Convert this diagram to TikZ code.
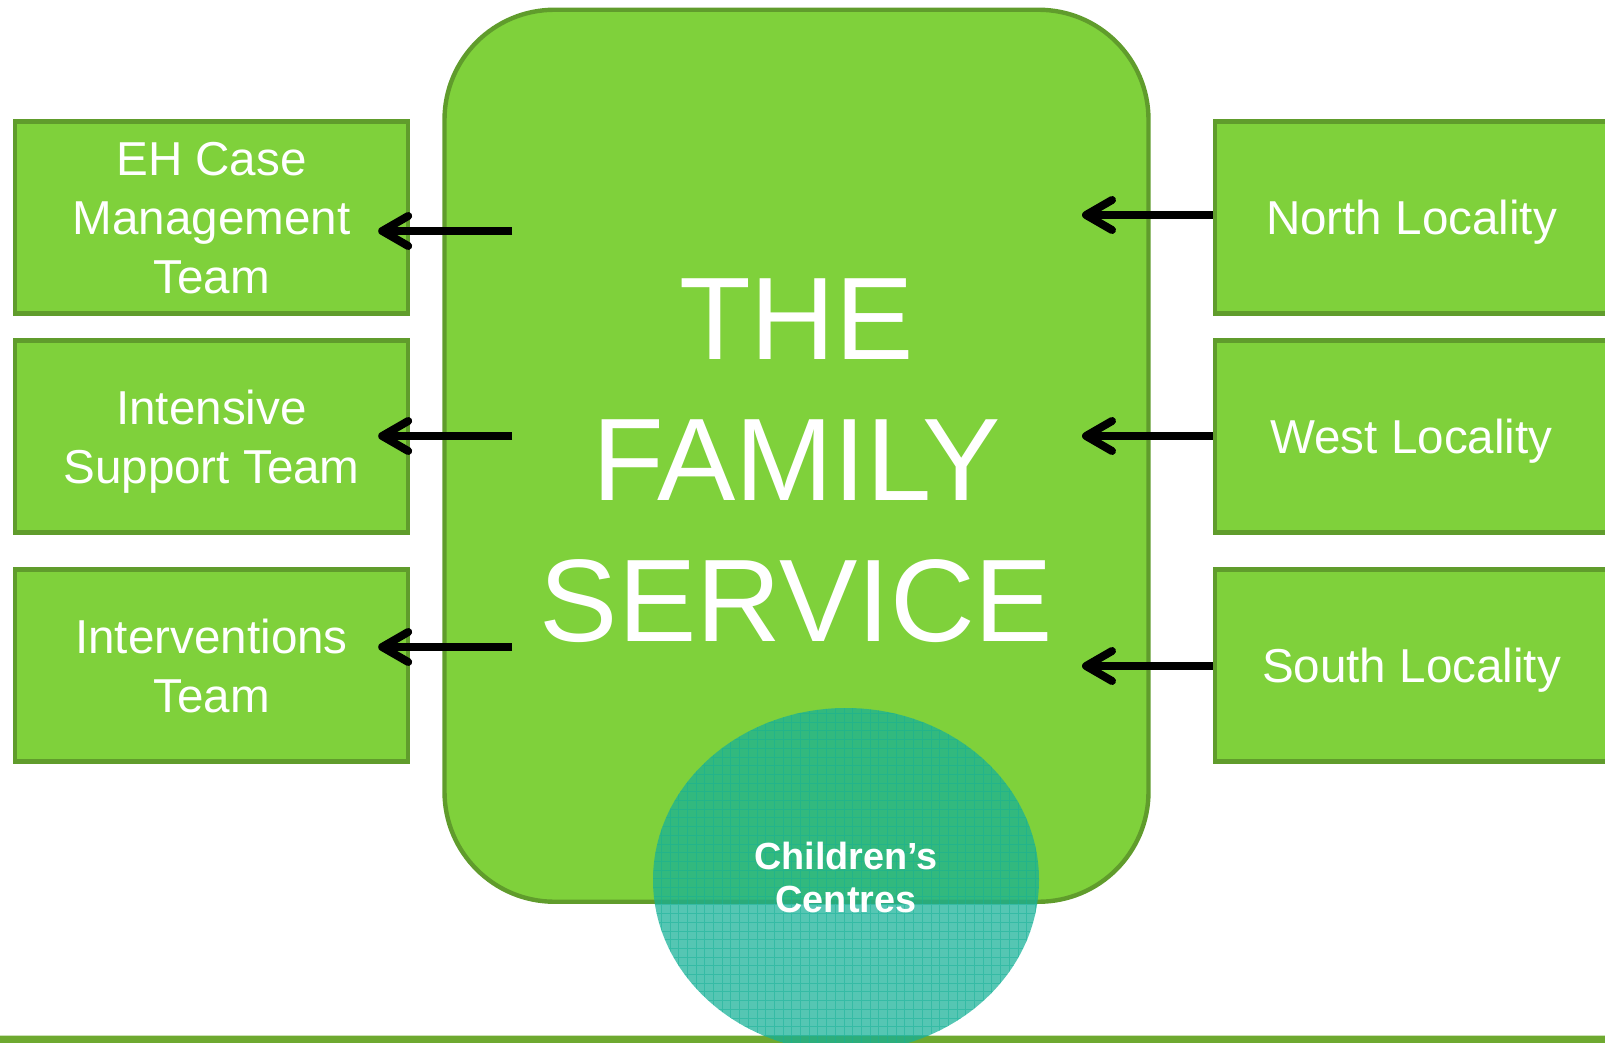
\documentclass[tikz,border=0pt]{standalone}
\usepackage{fontspec}
\setmainfont{Liberation Sans}
\usepackage{tikz}
\usetikzlibrary{arrows.meta,positioning,shapes.geometric}
\definecolor{leafgreen}{RGB}{127,209,59}
\definecolor{edgegreen}{RGB}{96,156,44}
\definecolor{stripgreen}{RGB}{110,169,48}
\definecolor{lagoon}{RGB}{22,177,151}

\begin{document}
\begin{tikzpicture}[x=0.5pt,y=-0.5pt,
  team/.style={draw=edge,fill=leaf,line width=2.2pt,inner sep=0pt,
    minimum width=196.5pt,minimum height=96pt,text=white,align=center,
    text depth=0pt,font=\fontsize{23.8}{29.5}\selectfont},
  push/.style={line width=4pt,-{Straight Barb[length=13pt,width=15pt,line cap=round,line join=round]}}]
\colorlet{leaf}{leafgreen} \colorlet{edge}{edgegreen}
\clip (0,0) rectangle (1605,1043);
% the service itself
\node [draw=edge,fill=leaf,line width=2.2pt,rounded corners=55pt,inner sep=0pt,
  minimum width=352pt,minimum height=446pt] (fam) at (796.5,455.75) {};
\node [text=white,align=center,font=\fontsize{58.7}{70.5}\selectfont]
  (famtext) at ([yshift=-2.5pt]fam.center) {THE\\FAMILY\\SERVICE};
% teams on the left
\node [team] (eh)  at (211.5,217.5) {EH Case\\Management\\Team};
\node [team] (ist) at (211.5,436.5) {Intensive\\Support Team};
\node [team] (int) at (211.5,665.5) {Interventions\\Team};
% localities on the right
\node [team] (north) at (1411.5,217.5) {North Locality};
\node [team] (west)  at (1411.5,436.5) {West Locality};
\node [team] (south) at (1411.5,665.5) {South Locality};
\foreach \t/\y in {eh/231,ist/436,int/647}{
  \coordinate (from-\t) at (512,\y);
  \draw [push,shorten >=-16pt] (from-\t) -- (from-\t -| \t.east);}
\foreach \t/\y in {north/215,west/436,south/666}{
  \coordinate (to-\t) at (1082,\y);
  \draw [push] (to-\t -| \t.west) -- (to-\t);}
% strip along the bottom
\fill [stripgreen] (0,1036) rectangle (1605,1043);
\draw [stripgreen!35,line width=0.5pt] (0,1035) -- (1605,1035);
% children's centres
\node [ellipse,fill=lagoon,fill opacity=0.73,minimum width=193pt,minimum height=172pt] (cc) at (846,880) {};
\begin{scope}
\clip (cc.center) ellipse [x radius=96.5pt,y radius=86pt];
\draw [lagoon,line width=0.4pt,opacity=0.5,step=4.35pt] (640,700) grid (1060,1060);
\end{scope}
\node [text=white,align=center,font=\bfseries\fontsize{18.9}{21.5}\selectfont] (cctext) at ([yshift=1.5pt]cc.center) {Children’s\\Centres};
%\draw [help lines] (fam.south) -- (cc.north);
\end{tikzpicture}
\end{document}
